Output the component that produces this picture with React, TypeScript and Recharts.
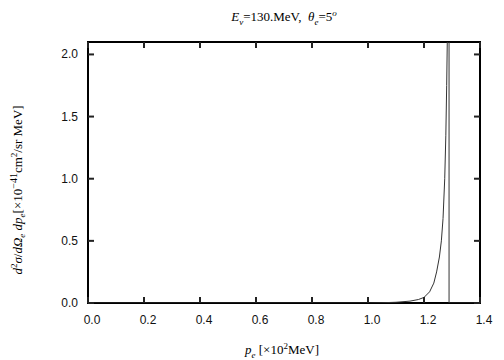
import { Line, LineChart, ReferenceArea, XAxis, YAxis } from 'recharts'

// electron momentum p_e [x10^2 MeV]
const momentum = [
  0, 0.2, 0.4, 0.6, 0.8, 1.0, 1.05, 1.1, 1.15, 1.18, 1.2, 1.22, 1.235, 1.245,
  1.255, 1.262, 1.268, 1.274, 1.278, 1.281, 1.284, 1.2895, 1.2895, 1.3, 1.4
]
// d2sigma/dOmega dp [x10^-41 cm2/sr MeV]
const crossSection = [
  0, 0, 0, 0, 0, 0, 0.002, 0.006, 0.015, 0.028, 0.045, 0.09, 0.16, 0.25,
  0.37, 0.5, 0.68, 1.0, 1.35, 1.75, 2.25, 3.5, 0, 0, 0
]
const xTicks = [0, 0.2, 0.4, 0.6, 0.8, 1.0, 1.2, 1.4]
const yTicks = [0, 0.5, 1.0, 1.5, 2.0]

const data = momentum.map((p, i) => ({ p, value: crossSection[i] }))

const W = 504
const H = 360
const margin = { top: 42, right: 24, bottom: 27, left: 38 }
const yAxisW = 50
const xAxisH = 30
const plotW = W - margin.left - margin.right - yAxisW
const plotH = H - margin.top - margin.bottom - xAxisH
const tickLen = 6
const tickW = 2
const tickColor = '#222'

const sans = '"Liberation Sans", Arial, sans-serif'
const serif = '"Liberation Serif", "Times New Roman", serif'

// gnuplot style: inward ticks on both opposite sides, labels outside
const XTick = ({ x, y, payload }: any) => {
  const cx = Number(x)
  const cy = Number(y)
  return (
    <g>
      <rect x={cx - tickW / 2} y={cy - tickLen} width={tickW} height={tickLen} fill={tickColor} />
      <rect x={cx - tickW / 2} y={cy - plotH} width={tickW} height={tickLen} fill={tickColor} />
      <text x={cx + 4} y={cy + 21} textAnchor="middle" fill="#111" fontSize={12} fontFamily={sans}>
        {payload.value.toFixed(1)}
      </text>
    </g>
  )
}

const YTick = ({ x, y, payload }: any) => {
  const cx = Number(x)
  const cy = Number(y)
  return (
    <g>
      <rect x={cx} y={cy - tickW / 2} width={tickLen} height={tickW} fill={tickColor} />
      <rect x={cx + plotW - tickLen} y={cy - tickW / 2} width={tickLen} height={tickW} fill={tickColor} />
      <text x={cx - 10} y={cy + 4} textAnchor="end" fill="#111" fontSize={12} fontFamily={sans}>
        {payload.value.toFixed(1)}
      </text>
    </g>
  )
}

export default function App() {
  return (
    <div style={{ position: 'absolute', left: 0, top: 0, width: W, height: H, background: '#fff' }}>
      <LineChart width={W} height={H} data={data} margin={margin}>
        <ReferenceArea x1={0} x2={1.4} y1={0} y2={2.1} fill="none" stroke="#000" strokeWidth={2} />
        <XAxis
          dataKey="p"
          type="number"
          domain={[0, 1.4]}
          ticks={xTicks}
          height={xAxisH}
          tickLine={false}
          axisLine={false}
          tickSize={0}
          tickMargin={0}
          tick={XTick}
        />
        <YAxis
          type="number"
          domain={[0, 2.1]}
          allowDataOverflow
          ticks={yTicks}
          width={yAxisW}
          tickLine={false}
          axisLine={false}
          tickSize={0}
          tickMargin={0}
          tick={YTick}
        />
        <Line
          type="linear"
          dataKey="value"
          stroke="#333"
          strokeWidth={1}
          dot={false}
          isAnimationActive={false}
        />
      </LineChart>

      <div
        style={{
          position: 'absolute', left: 284, top: 18, transform: 'translate(-50%, -50%)',
          fontFamily: serif, fontSize: 13, whiteSpace: 'nowrap', lineHeight: 1
        }}
      >
        <i>E</i><sub style={{ fontSize: 9 }}><i>ν</i></sub>=130.MeV,&nbsp; <i>θ</i><sub style={{ fontSize: 9 }}><i>e</i></sub>=5<sup style={{ fontSize: 9 }}><i>o</i></sup>
      </div>

      <div
        style={{
          position: 'absolute', left: 282, top: 351, transform: 'translate(-50%, -50%)',
          fontFamily: serif, fontSize: 13, whiteSpace: 'nowrap', lineHeight: 1
        }}
      >
        <i>p</i><sub style={{ fontSize: 9 }}><i>e</i></sub> [×10<sup style={{ fontSize: 9 }}>2</sup>MeV]
      </div>

      <div
        style={{
          position: 'absolute', left: 18, top: 190, transform: 'translate(-50%, -50%) rotate(-90deg)',
          fontFamily: serif, fontSize: 13, whiteSpace: 'nowrap', lineHeight: 1
        }}
      >
        <i>d</i><sup style={{ fontSize: 9 }}>2</sup><i>σ</i>/<i>d</i><i>Ω</i><sub style={{ fontSize: 9 }}><i>e</i></sub> <i>dp</i><sub style={{ fontSize: 9 }}><i>e</i></sub>[×10<sup style={{ fontSize: 10 }}>−41</sup>cm<sup style={{ fontSize: 9 }}>2</sup>/sr MeV]
      </div>
    </div>
  )
}
